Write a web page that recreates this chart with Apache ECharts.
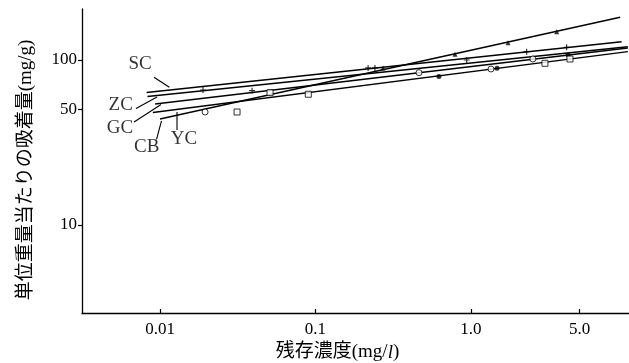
<!DOCTYPE html>
<html><head><meta charset="utf-8">
<script src="https://cdn.jsdelivr.net/npm/echarts@6/dist/echarts.min.js"></script>
<style>html,body{margin:0;padding:0;background:#fff}#c{width:629px;height:363px}</style>
</head><body><div id="c"></div>
<script>
// ---- axis ticks ----
const xTickValues = [0.01, 0.1, 1, 5];
const xTickLabels = ['0.01', '0.1', '1.0', '5.0'];
const yTickValues = [10, 50, 100];
const yTickLabels = ['10', '50', '100'];
const xTitle = '残存濃度(mg/{i|l})';
const yTitle = '単位重量当たりの吸着量(mg/g)';

// ---- fitted isotherm lines (start / end points) ----
const seriesNames = ['SC', 'ZC', 'GC', 'YC', 'CB'];
const lineSC = [[0.0082, 63.5], [9.3, 129.0]];
const lineZC = [[0.0083, 60.1], [10.2, 120.4]];
const lineGC = [[0.0093, 54.1], [10.2, 118.2]];
const lineYC = [[0.0090, 48.1], [10.2, 112.3]];
const lineCB = [[0.0100, 43.9], [9.1, 181.5]];

// ---- measured points, grouped by marker shape ----
const ptsPlus = [[0.0189, 65.8], [0.0391, 65.2], [0.218, 89.5], [0.241, 89.5], [0.938, 100.0], [2.28, 112.3], [4.12, 119.4]];
const ptsTriangle = [[0.272, 89.5], [0.789, 108.3], [1.73, 127.3], [3.56, 148.4]];
const ptsCircle = [[0.0195, 48.4], [0.463, 83.8], [1.345, 88.2], [2.50, 101.4]];
const ptsDot = [[0.622, 79.3], [1.47, 89.1], [4.21, 107.2]];
const ptsSquare = [[0.0313, 48.4], [0.051, 63.4], [0.0899, 62.0], [2.99, 95.5], [4.33, 101.4]];

// ---- label annotations (text anchor, leader start, leader end) ----
const labelPos = {
  SC: [[0.00744, 94.6], [0.00915, 78.6], [0.01148, 68.3]],
  ZC: [[0.00559, 53.0], [0.00701, 50.8], [0.00957, 59.7]],
  GC: [[0.00553, 38.5], [0.00681, 42.1], [0.01015, 53.7]],
  CB: [[0.00821, 29.5], [0.0095, 33.0], [0.01022, 42.7]],
  YC: [[0.01427, 33.0], [0.01286, 37.6], [0.01286, 48.4]]
};

const xMin = 0.00315, xMax = 10.38, yMin = 2.93, yMax = 203.7;
const SERIF = '"Liberation Serif", "Noto Sans CJK JP", serif';
const lines = { SC: lineSC, ZC: lineZC, GC: lineGC, YC: lineYC, CB: lineCB };

const chart = echarts.init(document.getElementById('c'), null, { renderer: 'canvas' });
const series = [];
seriesNames.forEach(n => {
  series.push({ type: 'line', name: n, data: lines[n], showSymbol: false, silent: true,
    lineStyle: { color: '#000', width: 1.4 }, z: 2 });
  const lp = labelPos[n];
  series.push({ type: 'line', data: [lp[1], lp[2]], showSymbol: false, silent: true,
    lineStyle: { color: '#000', width: 1.1 }, z: 2 });
  series.push({ type: 'scatter', data: [{ value: lp[0], name: n }], symbolSize: 0, silent: true,
    label: { show: true, position: 'inside', formatter: '{b}', color: '#000', fontSize: 19, fontFamily: SERIF } });
});
const plusPath = 'path://M4,0h2v4h4v2h-4v4h-2v-4h-4v-2h4z';
series.push({ type: 'scatter', data: ptsPlus, symbol: plusPath, symbolSize: 6, itemStyle: { color: '#000' }, z: 3 });
series.push({ type: 'scatter', data: ptsTriangle, symbol: 'triangle', symbolSize: 5, itemStyle: { color: '#000' }, z: 3 });
series.push({ type: 'scatter', data: ptsCircle, symbol: 'circle', symbolSize: 6, itemStyle: { color: '#fff', borderColor: '#000', borderWidth: 1 }, z: 3 });
series.push({ type: 'scatter', data: ptsDot, symbol: 'circle', symbolSize: 5, itemStyle: { color: '#000' }, z: 3 });
series.push({ type: 'scatter', data: ptsSquare, symbol: 'rect', symbolSize: 6, itemStyle: { color: '#fff', borderColor: '#000', borderWidth: 1 }, z: 3 });

function labelFor(vals, labs) {
  return v => { for (let i = 0; i < vals.length; i++) if (Math.abs(Math.log10(vals[i]) - v) < 1e-6) return labs[i]; return ''; };
}

chart.setOption({
  animation: false,
  grid: { left: 82, top: 9, right: 0, bottom: 50, containLabel: false, outerBoundsMode: 'none' },
  xAxis: [
    { type: 'log', logBase: 10, min: xMin, max: xMax, position: 'bottom',
      axisLine: { show: true, onZero: false, lineStyle: { color: '#000', width: 1.3 } },
      axisTick: { show: false }, axisLabel: { show: false }, splitLine: { show: false }, minorTick: { show: false } },
    { type: 'value', min: Math.log10(xMin), max: Math.log10(xMax), position: 'bottom',
      axisLine: { show: false, onZero: false },
      axisTick: { show: true, inside: true, length: 4, customValues: xTickValues.map(Math.log10), lineStyle: { color: '#000', width: 1.2 } },
      axisLabel: { show: true, customValues: xTickValues.map(Math.log10), formatter: labelFor(xTickValues, xTickLabels),
        margin: 8, color: '#000', fontSize: 17, fontFamily: SERIF },
      splitLine: { show: false },
      name: xTitle, nameLocation: 'middle', nameGap: 30,
      nameTextStyle: { color: '#000', fontSize: 19, fontFamily: SERIF, padding: [0, 36, 0, 0],
        rich: { i: { fontStyle: 'italic', fontSize: 19, fontFamily: SERIF, color: '#000' } } } }
  ],
  yAxis: [
    { type: 'log', logBase: 10, min: yMin, max: yMax, position: 'left',
      axisLine: { show: true, onZero: false, lineStyle: { color: '#000', width: 1.3 } },
      axisTick: { show: false }, axisLabel: { show: false }, splitLine: { show: false }, minorTick: { show: false } },
    { type: 'value', min: Math.log10(yMin), max: Math.log10(yMax), position: 'left',
      axisLine: { show: false, onZero: false },
      axisTick: { show: true, inside: false, length: 4, customValues: yTickValues.map(Math.log10), lineStyle: { color: '#000', width: 1.2 } },
      axisLabel: { show: true, customValues: yTickValues.map(Math.log10), formatter: labelFor(yTickValues, yTickLabels),
        margin: 5, color: '#000', fontSize: 17, fontFamily: SERIF },
      splitLine: { show: false },
      name: yTitle, nameLocation: 'middle', nameGap: 46, nameRotate: 90,
      nameTextStyle: { color: '#000', fontSize: 19, fontFamily: SERIF, padding: [0, 18, 0, 0] } }
  ],
  series: series
});
</script></body></html>
